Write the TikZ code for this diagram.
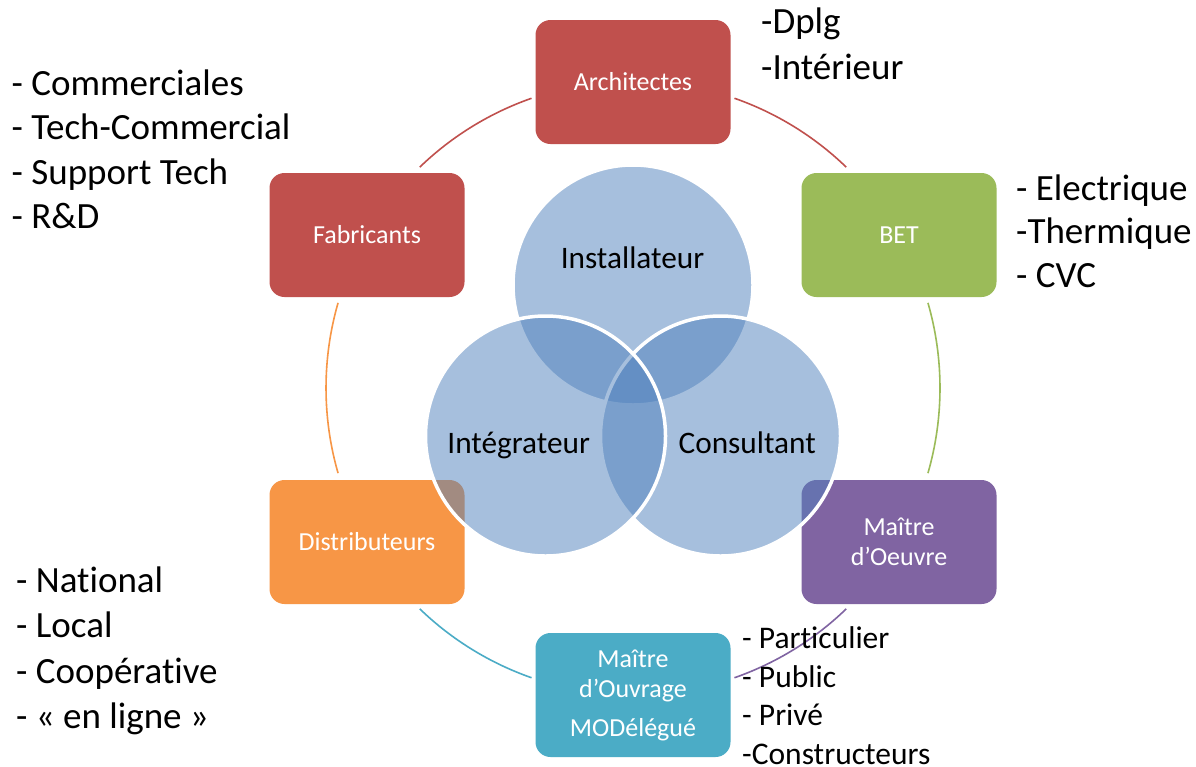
\documentclass[tikz,border=0pt]{standalone}
\usepackage{fontspec}
\setmainfont{Carlito}[Ligatures=NoCommon]
\definecolor{cred}{HTML}{C0504D}
\definecolor{cgreen}{HTML}{9BBB59}
\definecolor{cpurple}{HTML}{8064A2}
\definecolor{cteal}{HTML}{4BACC6}
\definecolor{corange}{HTML}{F79646}
\definecolor{cblue}{HTML}{4F81BD}
\begin{document}
\begin{tikzpicture}[x=1pt,y=-1pt,
  box/.style={rectangle, rounded corners=15pt, minimum width=195pt, minimum height=124pt,
    inner sep=0pt, text=white, align=center, font=\fontsize{26}{30.5}\selectfont},
  arcline/.style={line width=1.6pt},
  venn/.style={circle, minimum size=240pt, inner sep=0pt, fill=cblue, fill opacity=0.5,
    draw=white, line width=3.5pt},
  venntext/.style={anchor=base, inner sep=0pt, font=\fontsize{31.3}{37}\selectfont},
  lst/.style={anchor=base west, inner sep=0pt, font=\fontsize{37}{44}\selectfont},
  lsts/.style={anchor=base west, inner sep=0pt, font=\fontsize{31.5}{38}\selectfont}]
\useasboundingbox (0,0) rectangle (1196,766);
\fill[white] (0,0) rectangle (1196,766);
\coordinate (c) at (633,388);
% cycle arcs
\foreach \a/\b/\col in {-70.7/-46/cred, -16.1/16.1/cgreen, 46/70.7/cpurple,
  109.3/134/cteal, 163.9/196.1/corange, 226/250.7/cred}
  \draw[arcline, \col] ([shift={(\a:307)}]c) arc[start angle=\a, end angle=\b, radius=307];
% boxes
\node[box, fill=cred] (arch) at (633,82) {Architectes};
\node[box, fill=cgreen] (bet) at (899,235) {BET};
\node[box, fill=cpurple] (mdoe) at (899,542) {Maître\\d’Oeuvre};
\node[box, fill=cteal] (mdou) at (633,695) {Maître\\d’Ouvrage\\[8pt]MODélégué};
\node[box, fill=corange] (dist) at (367,542) {Distributeurs};
\node[box, fill=cred] (fab) at (367,235) {Fabricants};
% venn circles
\node[venn] (inst) at (633,285) {};
\node[venn] (cons) at (720.5,436) {};
\node[venn] (integ) at (545.5,436) {};
\node[venntext] (tinst) at (632.5,268.3) {Installateur};
\node[venntext] (tinteg) at (518.7,453.3) {Intégrateur};
\node[venntext] (tcons) at (747.2,453) {Consultant};
% lists
\node[lst] (f1) at (11.5,95) {- Commerciales};
\node[lst] (f2) at (11.5,139.5) {- Tech-Commercial};
\node[lst] (f3) at (11.5,184) {- Support Tech};
\node[lst] (f4) at (11.5,228.5) {- R\&D};
\node[lst] (a1) at (761,33.5) {-Dplg};
\node[lst] (a2) at (761,79) {-Intérieur};
\node[lst] (b1) at (1016,200) {- Electrique};
\node[lst] (b2) at (1016,243.5) {-Thermique};
\node[lst] (b3) at (1016,287) {- CVC};
\node[lst] (d1) at (16,592) {- National};
\node[lst] (d2) at (16,637.5) {- Local};
\node[lst] (d3) at (16,683) {- Coopérative};
\node[lst] (d4) at (16,728.5) {- « en ligne »};
\node[lsts] (o1) at (742,648.5) {- Particulier};
\node[lsts] (o2) at (742,687) {- Public};
\node[lsts] (o3) at (742,725.5) {- Privé};
\node[lsts] (o4) at (742,764) {-Constructeurs};
\end{tikzpicture}
\end{document}
